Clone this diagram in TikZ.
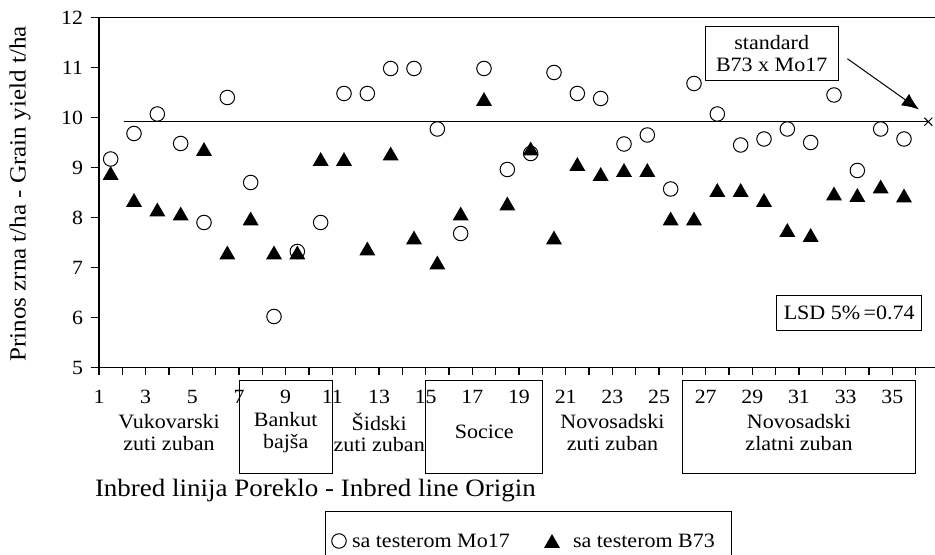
\documentclass[tikz,border=0pt]{standalone}
\usepackage{fontspec}
\setmainfont{Liberation Serif}[FakeStretch=1.08]
\usetikzlibrary{shapes.geometric,shapes.misc,arrows.meta}
\begin{document}
\begin{tikzpicture}[x=1bp,y=-1bp,
  every node/.style={inner sep=0pt,outer sep=0pt},
  circmark/.style={circle,draw,line width=1bp,minimum size=14.5bp,fill=white},
  trimark/.style={regular polygon,regular polygon sides=3,fill=black,minimum size=18.5bp,yshift=-2.3bp},
  ticklab/.style={font=\fontsize{20.2bp}{21.6bp}\selectfont},
  grouplab/.style={font=\fontsize{20.4bp}{21.6bp}\selectfont,align=center},
  axtitle/.style={font=\fontsize{23.2bp}{26bp}\selectfont},
  xtitlefont/.style={font=\fontsize{25bp}{28bp}\selectfont},
  framebox/.style={draw,line width=1bp},
  axisline/.style={line width=1.1bp}
]
\useasboundingbox (0,0) rectangle (935,555);
% axes
\draw[axisline] (99,17.5) -- (935,17.5);
\draw[axisline] (99,17.5) -- (99,375);
\draw[axisline] (90.7,367.5) -- (935,367.5);
\foreach \v in {5,...,12}{
  \draw[axisline] (90.7,{617.5-50*\v}) -- (99,{617.5-50*\v});
  \node[ticklab,anchor=east] (yl\v) at (83,{617.5-50*\v}) {\v};
}
\foreach \k in {2,...,36}{
  \draw[axisline] ({99+(\k-1)*23.333},367.5) -- ({99+(\k-1)*23.333},375);
}
\foreach \k in {1,3,...,35}{
  \node[ticklab] (xl\k) at ({99+(\k-1)*23.333},396.7) {\k};
}
% axis titles
\node[axtitle,rotate=90] (ytitle) at (20,194) {Prinos zrna t/ha - Grain yield t/ha};
\node[xtitlefont,anchor=west] (xtitle) at (95,491) {Inbred linija Poreklo - Inbred line Origin};
% group labels
\node[grouplab] (vuk) at (169,432.5) {Vukovarski\\zuti zuban};
\node[framebox,minimum width=93.3bp,minimum height=93.3bp] (bankutbox) at (285.7,426.7) {};
\node[grouplab] (bankut) at (285.7,432.5) {Bankut\\bajša};
\node[grouplab] (sid) at (379.2,432.5) {Šidski\\zuti zuban};
\node[framebox,minimum width=116.7bp,minimum height=93.3bp] (socicebox) at (484.3,426.7) {};
\node[grouplab] (socice) at (484.3,431.7) {Socice};
\node[grouplab] (nszuti) at (612.5,432.5) {Novosadski\\zuti zuban};
\node[framebox,minimum width=233.3bp,minimum height=93.3bp] (nszlbox) at (799,426.7) {};
\node[grouplab] (nszl) at (799,432.5) {Novosadski\\zlatni zuban};
% standard
\node[framebox,grouplab,minimum width=133.3bp,minimum height=54bp] (std) at (771.7,53.7) {standard\\B73 x Mo17};
\node[cross out,draw,line width=1bp,minimum size=8bp] (stdx) at (928.3,121.7) {};
\coordinate (hl) at (124,121.7);
\draw[line width=1bp] (hl) -- (stdx.center);
\coordinate (stdtip) at (919,109.5);
\draw[line width=1bp,-{Latex[length=17bp,width=14bp]}] ([xshift=9bp,yshift=-5bp]std.east) -- (stdtip);
% LSD
\node[framebox,grouplab,minimum width=145bp,minimum height=34.3bp] (lsd) at (849.2,312.9) {LSD 5\%\,=0.74};
% data
\begin{scope}[shift={(75.667,617.5)},x=23.333bp,y=50bp]
\foreach \v [count=\i] in {9.17,9.68,10.07,9.48,7.90,10.40,8.70,6.02,7.32,7.90,10.48,10.48,10.98,10.98,9.77,7.68,10.98,8.96,9.28,10.90,10.48,10.38,9.47,9.65,8.57,10.68,10.07,9.45,9.57,9.77,9.50,10.45,8.94,9.77,9.57}{
  \node[circmark] (c\i) at ({\i+0.5},\v) {};
}
\foreach \v [count=\i] in {8.89,8.35,8.16,8.08,9.37,7.30,7.98,7.30,7.30,9.17,9.17,7.38,9.28,7.60,7.10,8.08,10.37,8.28,9.38,7.60,9.07,8.87,8.95,8.95,7.98,7.98,8.55,8.55,8.35,7.75,7.65,8.48,8.45,8.62,8.44}{
  \node[trimark] (t\i) at ({\i+0.5},\v) {};
}
\end{scope}
% legend
\node[framebox,minimum width=406bp,minimum height=60bp] (legbox) at (528,541) {};
\node[circmark] (legc) at (339,541) {};
\node[grouplab,anchor=west] (legct) at (352,541) {sa testerom Mo17};
\node[trimark] (legt) at (552,541) {};
\node[grouplab,anchor=west] (legtt) at (573,541) {sa testerom B73};
\end{tikzpicture}
\end{document}
